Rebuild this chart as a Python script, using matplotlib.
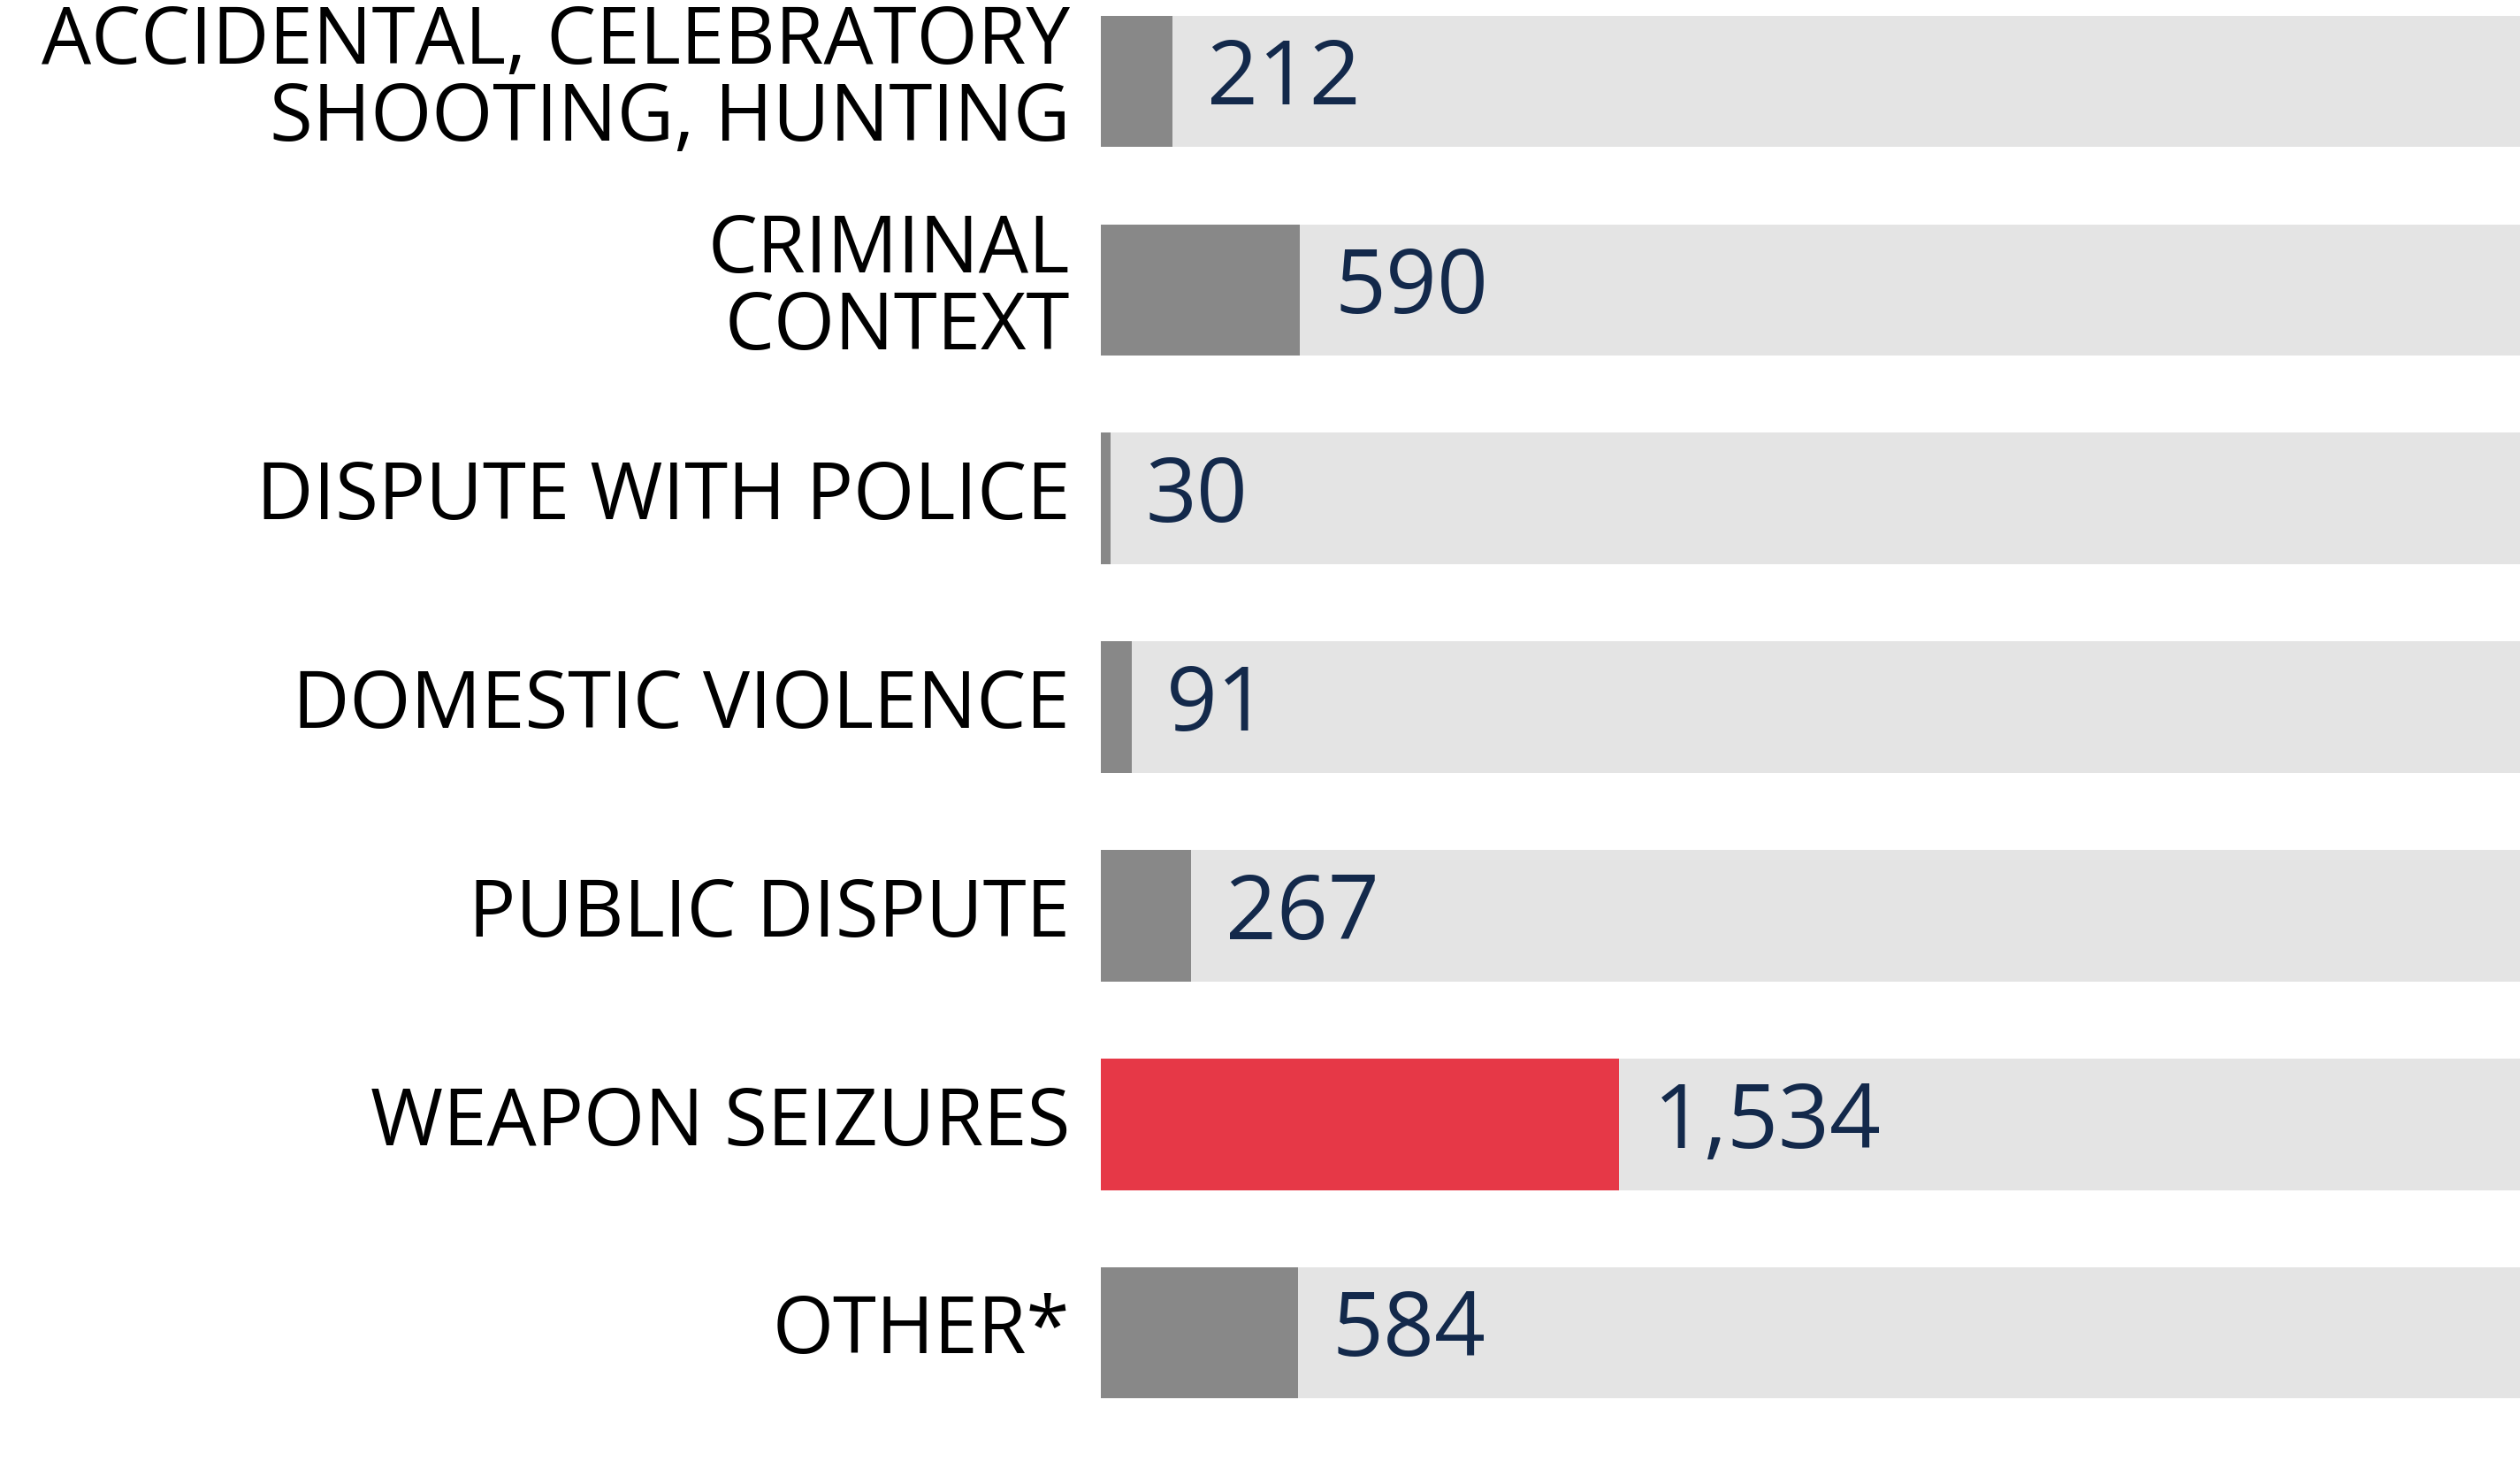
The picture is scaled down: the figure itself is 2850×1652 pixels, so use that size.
import matplotlib.pyplot as plt

categories = [
    "ACCIDENTAL, CELEBRATORY\nSHOOTING, HUNTING",
    "CRIMINAL\nCONTEXT",
    "DISPUTE WITH POLICE",
    "DOMESTIC VIOLENCE",
    "PUBLIC DISPUTE",
    "WEAPON SEIZURES",
    "OTHER*",
]
counts = [212, 590, 30, 91, 267, 1534, 584]
value_labels = ["212", "590", "30", "91", "267", "1,534", "584"]
highlight = "WEAPON SEIZURES"

scale_max = 4200

plt.rcParams['font.family'] = ['Open Sans', 'DejaVu Sans']

fig = plt.figure(figsize=(28.5, 16.52), dpi=100)
ax = fig.add_axes([0.4368, 0, 0.5632, 1])

ys = list(range(len(categories)))
bar_h = 0.63

# grey track behind every bar
ax.barh(ys, [scale_max] * len(ys), height=bar_h, color="#e4e4e4", linewidth=0)

colors = ["#e63847" if c == highlight else "#888888" for c in categories]
ax.barh(ys, counts, height=bar_h, color=colors, linewidth=0)

for y, v, lab in zip(ys, counts, value_labels):
    ax.annotate(lab, (v, y), xytext=(28, 0), textcoords="offset points",
                ha="left", va="center", fontsize=73, color="#13294b")

for y, cat in zip(ys, categories):
    ax.annotate(cat, (0, y), xytext=(-25, 0), textcoords="offset points",
                ha="right", va="center", fontsize=64, color="#000000",
                linespacing=0.95, annotation_clip=False)

ax.set_xlim(0, scale_max)
ax.set_ylim(6.614, -0.39)
ax.axis("off")

fig.savefig("out.png", dpi=100, facecolor="white")
